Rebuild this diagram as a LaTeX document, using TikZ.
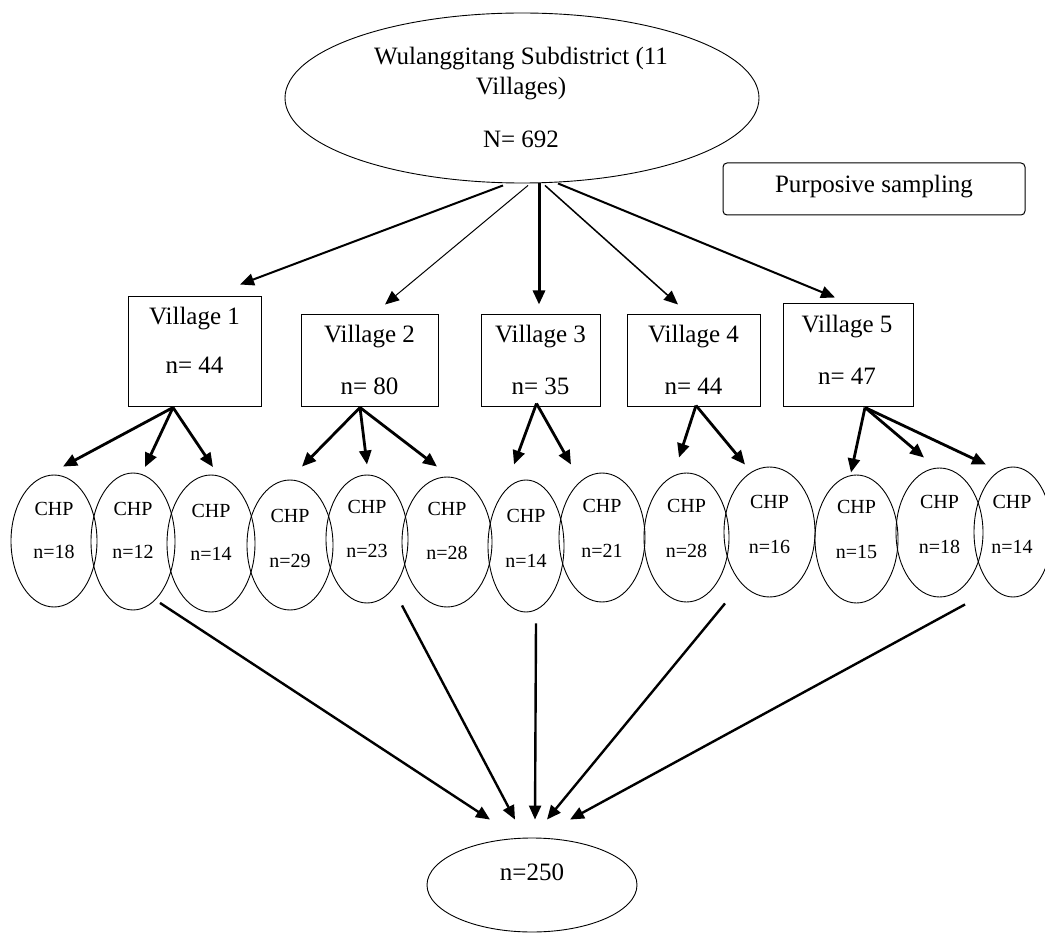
\documentclass[tikz,border=0pt]{standalone}
\usepackage{fontspec}
\setmainfont{Liberation Serif}
\usetikzlibrary{arrows.meta,shapes.geometric}
\begin{document}
\begin{tikzpicture}[x=1pt,y=-1pt,
  oval/.style={draw, ellipse, line width=0.9pt, inner sep=0pt},
  box/.style={draw, rectangle, line width=1pt, inner sep=0pt},
  big/.style={anchor=base, inner sep=0pt, font=\fontsize{25}{30}\selectfont},
  small/.style={anchor=base, inner sep=0pt, font=\fontsize{20}{24}\selectfont},
  arr/.style={-{Triangle[length=14pt,width=12pt]}, line width=2.8pt}]
\useasboundingbox (0,0) rectangle (1045,933);
% top ellipse
\node[oval, minimum width=474pt, minimum height=170pt] (top) at (522,98) {};
\node[big] (tt1) at (521,65) {Wulanggitang Subdistrict (11};
\node[big] (tt2) at (521,95) {Villages)};
\node[big] (tt3) at (521,148) {N= 692};
% purposive
\node[box, rounded corners=4pt, minimum width=302pt, minimum height=52pt] (ps) at (874,189) {};
\node[big] (pst) at (874,193) {Purposive sampling};
% villages
\node[box, minimum width=133pt, minimum height=110pt] (v1) at (194.5,352) {};
\node[box, minimum width=137pt, minimum height=92pt] (v2) at (369.5,361) {};
\node[box, minimum width=119pt, minimum height=92pt] (v3) at (540.5,361) {};
\node[box, minimum width=133pt, minimum height=92pt] (v4) at (693.5,361) {};
\node[box, minimum width=130pt, minimum height=103pt] (v5) at (848,355.5) {};
\node[big] (v1a) at (194.5,325) {Village 1};
\node[big] (v1b) at (194.5,374) {n= 44};
\node[big] (v2a) at (369.5,343) {Village 2};
\node[big] (v2b) at (369.5,395) {n= 80};
\node[big] (v3a) at (540.5,343) {Village 3};
\node[big] (v3b) at (540.5,395) {n= 35};
\node[big] (v4a) at (693.5,343) {Village 4};
\node[big] (v4b) at (693.5,395) {n= 44};
\node[big] (v5a) at (847,333) {Village 5};
\node[big] (v5b) at (847,385) {n= 47};
% CHP ellipses
\node[oval, minimum width=86pt, minimum height=132pt] (c1) at (54,541) {};
\node[oval, minimum width=84pt, minimum height=137pt] (c2) at (133,541.5) {};
\node[oval, minimum width=88pt, minimum height=137pt] (c3) at (211,543.5) {};
\node[oval, minimum width=86pt, minimum height=130pt] (c4) at (290,545) {};
\node[oval, minimum width=82pt, minimum height=128pt] (c5) at (367,539) {};
\node[oval, minimum width=90pt, minimum height=130pt] (c6) at (447,542) {};
\node[oval, minimum width=76pt, minimum height=132pt] (c7) at (526,546) {};
\node[oval, minimum width=86pt, minimum height=129pt] (c8) at (602,537.5) {};
\node[oval, minimum width=85pt, minimum height=129pt] (c9) at (686.5,537.5) {};
\node[oval, minimum width=91pt, minimum height=130pt] (c10) at (769.5,532) {};
\node[oval, minimum width=83pt, minimum height=128pt] (c11) at (856.5,539) {};
\node[oval, minimum width=87pt, minimum height=129pt] (c12) at (939.5,532.5) {};
\node[oval, minimum width=78pt, minimum height=130pt] (c13) at (1013,532) {};
\foreach \n/\x/\ya/\yb/\t in {1/54/515/558/18, 2/133/515/558/12, 3/211/517/560/14,
  4/290/522/567/29, 5/367/513/557/23, 6/447/515/559/28, 7/526/522/567/14,
  8/602/512/557/21, 9/686.5/512/557/28, 10/769.5/508/553/16, 11/856.5/513/558/15,
  12/939.5/508/553/18, 13/1012/508/553/14}{
  \node[small] (ct\n) at (\x,\ya) {CHP};
  \node[small] (cn\n) at (\x,\yb) {n=\t};
}
% bottom ellipse
\node[oval, minimum width=210pt, minimum height=94pt] (bot) at (532,885) {};
\node[big] (bt) at (532,880) {n=250};
% top -> villages
\draw[arr, line width=2pt] ([xshift=-19pt,yshift=-2pt]top.south) -- ([xshift=45.5pt,yshift=12pt]v1.north);
\draw[arr, line width=1pt] ([xshift=6pt,yshift=-2pt]top.south) -- ([xshift=15.5pt,yshift=10pt]v2.north);
\draw[arr, line width=3pt] ([xshift=17pt]top.south) -- ([xshift=-1.5pt,yshift=10pt]v3.north);
\draw[arr, line width=1.5pt] ([xshift=23pt,yshift=-2pt]top.south) -- ([xshift=-15.5pt,yshift=10pt]v4.north);
\draw[arr, line width=2pt] ([xshift=36pt]top.south) -- ([xshift=-13pt,yshift=6pt]v5.north);
% villages -> CHP
\draw[arr] ([xshift=-21.5pt]v1.south) -- ([xshift=9pt,yshift=8pt]c1.north);
\draw[arr] ([xshift=-21.5pt]v1.south) -- ([xshift=12pt,yshift=5.5pt]c2.north);
\draw[arr] ([xshift=-21.5pt]v1.south) -- ([xshift=2pt,yshift=7.5pt]c3.north);
\draw[arr] ([xshift=-9.5pt]v2.south) -- ([xshift=12pt,yshift=13pt]c4.north);
\draw[arr] ([xshift=-9.5pt]v2.south) -- ([yshift=10pt]c5.north);
\draw[arr] ([xshift=-9.5pt]v2.south) -- ([xshift=-10pt,yshift=10pt]c6.north);
\draw[arr] ([xshift=-4pt,yshift=4pt]v3.south) -- ([xshift=-12pt,yshift=15pt]c7.north);
\draw[arr] ([xshift=-4pt,yshift=4pt]v3.south) -- ([xshift=-31pt,yshift=8pt]c8.north);
\draw[arr] ([xshift=2.5pt,yshift=2pt]v4.south) -- ([xshift=-7.5pt,yshift=15pt]c9.north);
\draw[arr] ([xshift=2.5pt,yshift=2pt]v4.south) -- ([xshift=-24.5pt,yshift=2pt]c10.north);
\draw[arr] ([xshift=17pt]v5.south) -- ([xshift=-5.5pt,yshift=2pt]c11.north);
\draw[arr] ([xshift=17pt]v5.south) -- ([xshift=-15.5pt,yshift=10pt]c12.north);
\draw[arr] ([xshift=17pt]v5.south) -- ([xshift=-27pt,yshift=2pt]c13.north);
% CHP -> bottom
\draw[arr, line width=2.4pt] ([xshift=27pt,yshift=7.5pt]c2.south) -- ([xshift=-42pt,yshift=18pt]bot.north);
\draw[arr, line width=2.4pt] ([xshift=35pt,yshift=-2pt]c5.south) -- ([xshift=-17pt,yshift=18pt]bot.north);
\draw[arr, line width=2.4pt] ([xshift=10pt,yshift=-11pt]c7.south) -- ([xshift=3pt,yshift=18pt]bot.north);
\draw[arr, line width=2.4pt] ([xshift=38.5pt,yshift=-1pt]c9.south) -- ([xshift=15pt,yshift=18pt]bot.north);
\draw[arr, line width=2.4pt] ([xshift=25.5pt,yshift=-7pt]c12.south) -- ([xshift=38pt,yshift=18pt]bot.north);
\end{tikzpicture}
\end{document}
